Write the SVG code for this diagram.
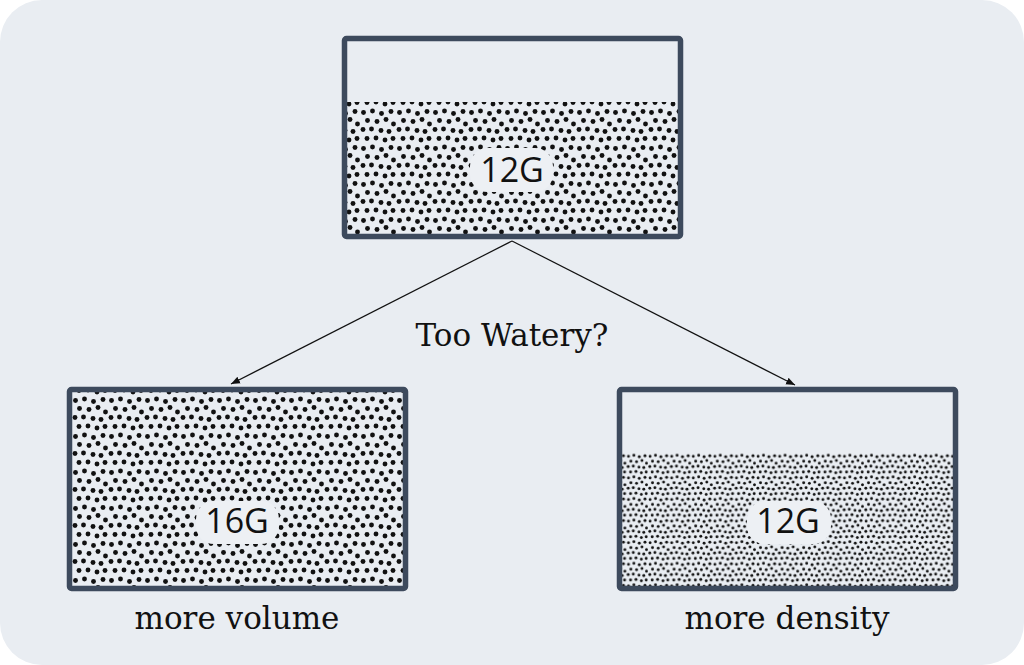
<svg xmlns="http://www.w3.org/2000/svg" width="1024" height="665" viewBox="0 0 1024 665">
<style>
.box{fill:none;stroke:#3d4a5d;stroke-width:5.5;}
.tag{fill:#edf0f4;}
.num{font-family:"Open Sans","Noto Sans",sans-serif;font-size:34px;fill:#111;text-anchor:middle;}
.cap{font-family:"DejaVu Serif","Liberation Serif",serif;font-size:31px;fill:#111;text-anchor:middle;}
.conn{stroke:#111;stroke-width:1.2;fill:none;marker-end:url(#ah);}
</style>
<defs>
<g id="tile" fill="#111">
<circle cx="3.5" cy="4.5" r="2.45"/><circle cx="12.5" cy="3" r="2.45"/><circle cx="21.5" cy="5.5" r="2.45"/><circle cx="31" cy="3.5" r="2.45"/>
<circle cx="7.5" cy="12.5" r="2.45"/><circle cx="17" cy="13.5" r="2.45"/><circle cx="26" cy="11.5" r="2.45"/><circle cx="33.5" cy="16" r="2.45"/>
<circle cx="3" cy="21.5" r="2.45"/><circle cx="11.5" cy="21" r="2.45"/><circle cx="21" cy="22.5" r="2.45"/><circle cx="29" cy="23.5" r="2.45"/>
<circle cx="7" cy="30.5" r="2.45"/><circle cx="16" cy="30" r="2.45"/><circle cx="25" cy="32" r="2.45"/><circle cx="33" cy="30.5" r="2.45"/>
</g>
<pattern id="dots" width="36" height="36" patternUnits="userSpaceOnUse">
<use href="#tile"/>
</pattern>
<pattern id="fine" width="36" height="36" patternUnits="userSpaceOnUse" patternTransform="scale(0.6)">
<use href="#tile"/>
</pattern>
<marker id="ah" viewBox="0 0 10 10" refX="10" refY="5" markerWidth="9" markerHeight="9" markerUnits="userSpaceOnUse" orient="auto">
<path d="M0,1 L10,5 L0,9 Z" fill="#111"/>
</marker>
</defs>
<rect x="0" y="0" width="1024" height="665" fill="#ffffff"/>
<rect x="0" y="0" width="1024" height="665" rx="42" fill="#e9edf2"/>

<g id="connectors">
<line class="conn" x1="512" y1="241" x2="231" y2="384"/>
<line class="conn" x1="512" y1="241" x2="795" y2="385"/>
</g>

<g id="top-box">
<rect x="347" y="102" width="331" height="132" fill="url(#dots)"/>
<rect class="box" x="344.5" y="38.5" width="336" height="198" rx="2"/>
<rect class="tag" x="470" y="148" width="83" height="44" rx="18"/>
<text class="num" x="512" y="182">12G</text>
</g>

<g id="question">
<text class="cap" x="512" y="346">Too Watery?</text>
</g>

<g id="left-box">
<rect x="72" y="392" width="331" height="194" fill="url(#dots)"/>
<rect class="box" x="69.5" y="389.5" width="336" height="199" rx="2"/>
<rect class="tag" x="196" y="501" width="83" height="43" rx="18"/>
<text class="num" x="237" y="533">16G</text>
<text class="cap" x="237" y="629">more volume</text>
</g>

<g id="right-box">
<rect x="622" y="453" width="331" height="133" fill="url(#fine)"/>
<rect class="box" x="619.5" y="389.5" width="336" height="199" rx="2"/>
<rect class="tag" x="747" y="501" width="84" height="43" rx="18"/>
<text class="num" x="788" y="533">12G</text>
<text class="cap" x="787" y="629">more density</text>
</g>
</svg>
